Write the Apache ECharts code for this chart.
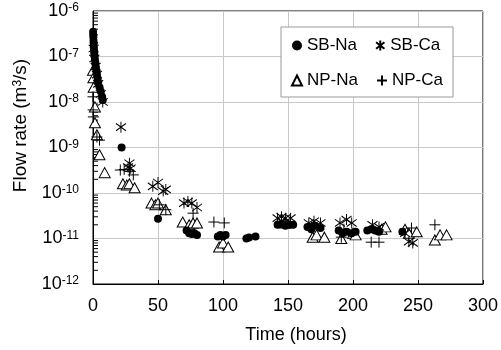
<!DOCTYPE html>
<html>
<head>
<meta charset="utf-8">
<script src="https://cdn.jsdelivr.net/npm/echarts@6/dist/echarts.min.js"></script>
<style>html,body{margin:0;padding:0;background:#fff;}#c{width:501px;height:350px;}</style>
</head>
<body>
<div id="c"></div>
<script>
// ---- data (hours, flow rate m3/s) ----
const sbNa = [[0.1,3.5e-7],[0.2,3e-7],[0.3,2.6e-7],[0.4,2.2e-7],[0.5,1.9e-7],[0.6,1.6e-7],[0.8,1.35e-7],[1,1.15e-7],[1.2,1e-7],[1.5,8.5e-8],[1.8,7e-8],[2.2,5.8e-8],[2.6,4.8e-8],[3,4e-8],[3.5,3.3e-8],[4,2.7e-8],[5,2.1e-8],[6,1.7e-8],[7,1.3e-8],[7.5,1.1e-8],
  [22,1e-9],[50,2.7e-11],[72,1.5e-11],[74,1.3e-11],[76,1.25e-11],[78,1.3e-11],[80,1.2e-11],[96,1.1e-11],[98,1.2e-11],[100,1.1e-11],[102,1.2e-11],[118,1e-11],[120,1.05e-11],[125,1.1e-11],
  [142,2e-11],[145,2.1e-11],[148,1.9e-11],[151,2e-11],[154,2e-11],[165,1.8e-11],[168,1.6e-11],[171,1.9e-11],[175,1.7e-11],[189,1.5e-11],[192,1.3e-11],[195,1.4e-11],[199,1.3e-11],[202,1.4e-11],[211,1.5e-11],[214,1.6e-11],[217,1.5e-11],[220,1.4e-11],[238,1.4e-11]];
const sbCa = [[0.5,1.5e-7],[1,9e-8],[2,6e-8],[3,4e-8],[4,2.5e-8],[6,1.5e-8],[7.5,1e-8],[21.5,2.8e-9],[27,3.7e-10],[28,4.5e-10],[29,3.5e-10],[46,1.4e-10],[50,1.7e-10],[54,1.1e-10],[56,1.2e-10],
  [70,6e-11],[73,6.5e-11],[76,6e-11],[80,4.8e-11],[142,2.8e-11],[145,3e-11],[148,2.8e-11],[152,2.8e-11],[166,2.2e-11],[170,2.4e-11],[175,2.2e-11],[190,2.2e-11],[195,2.6e-11],[199,2.2e-11],[215,2e-11],[220,1.8e-11],[240,1.3e-11],[243,8.5e-12],[246,8e-12]];
const npNa = [[0,5e-8],[0.3,3.4e-8],[0.5,2.1e-8],[1.5,7.8e-9],[1.5,3.5e-9],[3,1.9e-9],[5,6.9e-10],[9,2.8e-10],[23,1.6e-10],[26,1.5e-10],[28,1.6e-10],[32,1.3e-10],[45,6e-11],[48,5.5e-11],[50,6e-11],[56,4.3e-11],
  [69,2.3e-11],[74,2e-11],[77,2.2e-11],[80,2.2e-11],[97,6.5e-12],[100,8e-12],[104,6.5e-12],[148,2.2e-11],[169,1.07e-11],[172,1.2e-11],[178,1.07e-11],[191,1e-11],[200,1.3e-11],[202,1.2e-11],[222,1.6e-11],[225,1.8e-11],[240,1.6e-11],[243,1.3e-11],[249,1.4e-11],[263,9.3e-12],[267,1.2e-11],[272,1.2e-11]];
const npCa = [[0,1.3e-8],[0.1,6.7e-9],[0.3,4.7e-9],[3,1.7e-9],[5,1.45e-9],[21,3.2e-10],[24,3.3e-10],[28,3e-10],[31,2.5e-10],[51,5.5e-11],[56,4.3e-11],[77,3.6e-11],[93,2.3e-11],[101,2.2e-11],[168,1.8e-11],[191,1.07e-11],[193,1.6e-11],[214,8.3e-12],[220,8.3e-12],[245,1.7e-11],[263,2e-11]];
const seriesNames = ['SB-Na','SB-Ca','NP-Na','NP-Ca'];
// minor tick values on the log axis (2..9 x 10^e)
const minorTickValues = [];
for (let e = -12; e < -6; e++) { for (let m = 2; m <= 9; m++) minorTickValues.push(m * Math.pow(10, e)); }

const FONT = 'Liberation Sans, Arial, sans-serif';
const asterisk = 'path://M0,-5.5L0,5.5M-4.6,-3.6L4.6,3.6M-4.6,3.6L4.6,-3.6';
const plus = 'path://M-5,0L5,0M0,-5L0,5';
const FS = 18;

const chart = echarts.init(document.getElementById('c'));
chart.setOption({
  animation: false,
  backgroundColor: '#fff',
  textStyle: {fontFamily: FONT},
  grid: {left: 93, right: 16, top: 11, bottom: 66, show: true, borderColor: '#000', borderWidth: 1, backgroundColor: 'transparent'},
  legend: {
    data: seriesNames, left: 281, top: 27, width: 155, orient: 'horizontal',
    itemWidth: 10, itemHeight: 10, itemGap: 18, padding: [10, 10, 8, 10],
    backgroundColor: '#fff', borderColor: '#999', borderWidth: 1, borderRadius: 0,
    textStyle: {fontSize: 17, color: '#000', fontFamily: FONT}
  },
  xAxis: {
    type: 'value', min: 0, max: 300, interval: 50,
    name: 'Time (hours)', nameLocation: 'middle', nameGap: 42,
    nameTextStyle: {fontSize: FS, color: '#000', fontFamily: FONT, padding: [0, 0, 0, 16]},
    axisLine: {show: true, lineStyle: {color: '#000'}},
    axisTick: {show: true, inside: true, length: 4, lineStyle: {color: '#000'}},
    axisLabel: {fontSize: FS, color: '#000', margin: 13, fontFamily: FONT},
    splitLine: {show: true, lineStyle: {color: '#c8c8c8'}}
  },
  yAxis: {
    type: 'log', logBase: 10, min: 1e-12, max: 1e-6,
    name: 'Flow rate (m{sup|3}/s)', nameLocation: 'middle', nameGap: 60, nameRotate: 90,
    nameTextStyle: {fontSize: 19, color: '#000', fontFamily: FONT, padding: [0, 0, 0, 44],
      rich: {sup: {fontSize: 12, verticalAlign: 'top', fontFamily: FONT, color: '#000'}}},
    axisLine: {show: true, lineStyle: {color: '#000'}},
    axisTick: {show: false},
    axisLabel: {
      margin: 14, color: '#000', fontSize: FS, fontFamily: FONT,
      formatter: function (v) { return '10{sup|' + Math.round(Math.log10(v)) + '}'; },
      rich: {sup: {fontSize: 12, verticalAlign: 'top', fontFamily: FONT, color: '#000'}}
    },
    splitLine: {show: true, lineStyle: {color: '#c8c8c8'}}
  },
  series: [
    {name: 'SB-Na', type: 'scatter', data: sbNa, z: 5, symbol: 'circle', symbolSize: 8,
      itemStyle: {color: '#000', borderColor: '#000', borderWidth: 0, opacity: 1}},
    {name: 'SB-Ca', type: 'scatter', data: sbCa, z: 4, symbol: asterisk, symbolSize: [10, 11],
      itemStyle: {color: '#000', borderColor: '#000', borderWidth: 1, opacity: 1}},
    {name: 'NP-Na', type: 'scatter', data: npNa, z: 2, symbol: 'triangle', symbolSize: [11, 10],
      itemStyle: {color: '#fff', borderColor: '#000', borderWidth: 1, opacity: 1}},
    {name: 'NP-Ca', type: 'scatter', data: npCa, z: 3, symbol: plus, symbolSize: [11, 11],
      itemStyle: {color: '#000', borderColor: '#000', borderWidth: 1, opacity: 1}},
    {name: 'minorTicks', type: 'custom', silent: true, z: 1, clip: false,
      data: minorTickValues.map(function (v) { return [0, v]; }),
      renderItem: function (params, api) {
        const p = api.coord([0, api.value(1)]);
        return {type: 'line', shape: {x1: p[0], y1: p[1], x2: p[0] + 5, y2: p[1]},
          style: {stroke: '#000', lineWidth: 1}};
      }}
  ]
});
</script>
</body>
</html>
